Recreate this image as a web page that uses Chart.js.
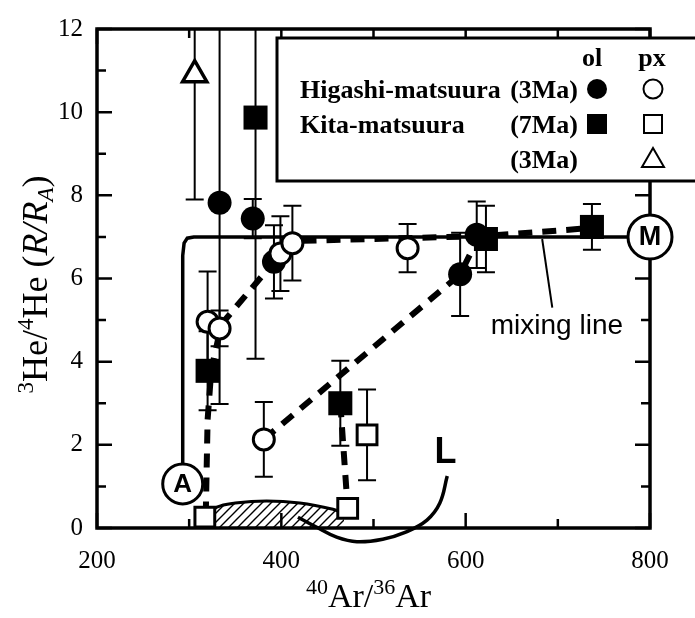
<!DOCTYPE html>
<html>
<head>
<meta charset="utf-8">
<script src="https://cdn.jsdelivr.net/npm/chart.js@4.4.0/dist/chart.umd.min.js"></script>
<style>
  html, body { margin: 0; padding: 0; background: #fff; }
  canvas { display: block; }
</style>
</head>
<body>
<canvas id="chart" width="695" height="618"></canvas>
<script>
// Higashi-matsuura (3Ma), olivine: filled circles
var hOlX = [333, 369, 392, 594, 612];
var hOlY = [7.82, 7.44, 6.4, 6.1, 7.05];
var hOlErr = [4.84, 0.47, 0.88, 1.0, 0.8];
// Higashi-matsuura (3Ma), pyroxene: open circles
var hPxX = [320, 333, 399, 412, 381, 537];
var hPxY = [4.96, 4.8, 6.6, 6.85, 2.13, 6.73];
var hPxErr = [1.21, 0.43, 0.9, 0.9, 0.9, 0.58];
// Kita-matsuura (7Ma), olivine: filled squares
var kOlX = [372, 320, 464, 622, 737];
var kOlY = [9.87, 3.78, 3.0, 6.95, 7.24];
var kOlErr = [5.8, 0.95, 1.02, 0.8, 0.55];
// Kita-matsuura (7Ma), pyroxene: open squares
var kPxX = [317, 472, 493];
var kPxY = [0.26, 0.47, 2.24];
var kPxErr = [0, 0, 1.09];
// (3Ma) pyroxene: open triangle
var tPxX = [306];
var tPxY = [10.9];
var tPxErr = [3.0];

// solid mixing line A -> M
var mixX = [293, 293, 294.5, 298, 305, 800];
var mixY = [1.06, 6.55, 6.85, 6.97, 7.0, 7.0];
// dashed trends
var dash1X = [318, 320, 324, 335, 392, 412, 620, 740];
var dash1Y = [0.3, 2.6, 3.8, 4.9, 6.4, 6.9, 7.02, 7.22];
var dash2X = [381, 594, 614];
var dash2Y = [2.13, 6.1, 7.0];
var dash3X = [464, 472];
var dash3Y = [3.0, 0.47];
// hatched field and L curve
var hatchX = [322, 330, 350, 384, 420, 456, 468];
var hatchY = [0.3, 0.5, 0.6, 0.65, 0.6, 0.45, 0.35];
var lCurveX = [418, 440, 460, 482, 510, 535, 558, 572, 580];
var lCurveY = [0.26, 0.0, -0.22, -0.33, -0.27, -0.1, 0.19, 0.6, 1.25];

// end members and labels
var endA = [293, 1.06];
var endM = [800, 7.0];
var labelL = [578, 1.8];
var mixLabel = [699, 4.85];
var mixPointerX = [683, 694];
var mixPointerY = [6.95, 5.3];

// axes
var xLabels = [200, 400, 600, 800];
var yLabels = [0, 2, 4, 6, 8, 10, 12];
var xTickVals = [200, 300, 400, 500, 600, 700, 800];
var yTickVals = [0, 1, 2, 3, 4, 5, 6, 7, 8, 9, 10, 11, 12];

var SERIF = '"Liberation Serif", "Times New Roman", serif';
var SANS = '"Liberation Sans", Arial, sans-serif';

function pts(xs, ys) {
  return xs.map(function (x, i) { return { x: x, y: ys[i] }; });
}

var canvas = document.getElementById('chart');
var ctx = canvas.getContext('2d');

// hatch pattern
var pc = document.createElement('canvas');
pc.width = 9; pc.height = 9;
var pctx = pc.getContext('2d');
pctx.strokeStyle = '#000';
pctx.lineWidth = 1.4;
pctx.beginPath();
pctx.moveTo(0, 9); pctx.lineTo(9, 0);
pctx.moveTo(-1, 1); pctx.lineTo(1, -1);
pctx.moveTo(8, 10); pctx.lineTo(10, 8);
pctx.stroke();
var hatch = ctx.createPattern(pc, 'repeat');

function lineSet(xs, ys, extra) {
  var d = {
    data: pts(xs, ys), showLine: true, pointRadius: 0, borderColor: '#000',
    borderWidth: 3.5, fill: false, tension: 0, order: 5
  };
  for (var k in extra) d[k] = extra[k];
  return d;
}

var errSeries = [
  { x: hOlX, y: hOlY, e: hOlErr },
  { x: hPxX, y: hPxY, e: hPxErr },
  { x: kOlX, y: kOlY, e: kOlErr },
  { x: kPxX, y: kPxY, e: kPxErr },
  { x: tPxX, y: tPxY, e: tPxErr }
];

function richText(c, parts, x, y) {
  var w = 0;
  parts.forEach(function (p) { c.font = p.font; w += c.measureText(p.t).width; });
  var cx = x - w / 2;
  c.textAlign = 'left';
  c.textBaseline = 'alphabetic';
  parts.forEach(function (p) {
    c.font = p.font;
    c.fillText(p.t, cx, y + (p.dy || 0));
    cx += c.measureText(p.t).width;
  });
}

function circleLabel(c, x, y, r, txt, size) {
  c.beginPath();
  c.arc(x, y, r, 0, Math.PI * 2);
  c.fillStyle = '#fff';
  c.fill();
  c.lineWidth = 3;
  c.strokeStyle = '#000';
  c.stroke();
  c.fillStyle = '#000';
  c.font = 'bold ' + size + 'px ' + SANS;
  c.textAlign = 'center';
  c.textBaseline = 'middle';
  c.fillText(txt, x, y + 1);
}

var decor = {
  id: 'decor',
  beforeDatasetsDraw: function (chart) {
    var c = chart.ctx, a = chart.chartArea, xs = chart.scales.x, ys = chart.scales.y;
    c.save();
    c.beginPath();
    c.rect(a.left, a.top, a.right - a.left, a.bottom - a.top);
    c.clip();
    c.strokeStyle = '#000';
    c.lineWidth = 2;
    errSeries.forEach(function (s) {
      s.x.forEach(function (xv, i) {
        if (!s.e[i]) return;
        var px = xs.getPixelForValue(xv);
        var t = ys.getPixelForValue(s.y[i] + s.e[i]);
        var b = ys.getPixelForValue(s.y[i] - s.e[i]);
        c.beginPath();
        c.moveTo(px, t); c.lineTo(px, b);
        c.moveTo(px - 9, t); c.lineTo(px + 9, t);
        c.moveTo(px - 9, b); c.lineTo(px + 9, b);
        c.stroke();
      });
    });
    c.restore();
  },
  afterDatasetsDraw: function (chart) {
    var c = chart.ctx, a = chart.chartArea, xs = chart.scales.x, ys = chart.scales.y;
    c.save();
    // frame
    c.strokeStyle = '#000';
    c.lineWidth = 3.5;
    c.strokeRect(a.left, a.top, a.right - a.left, a.bottom - a.top);
    // inward ticks
    c.lineWidth = 2.5;
    c.beginPath();
    xTickVals.forEach(function (v) {
      var px = xs.getPixelForValue(v);
      var len = v % 200 === 0 ? 15 : 9;
      c.moveTo(px, a.bottom); c.lineTo(px, a.bottom - len);
      c.moveTo(px, a.top); c.lineTo(px, a.top + len);
    });
    yTickVals.forEach(function (v) {
      var py = ys.getPixelForValue(v);
      var len = v % 2 === 0 ? 15 : 9;
      c.moveTo(a.left, py); c.lineTo(a.left + len, py);
      c.moveTo(a.right, py); c.lineTo(a.right - len, py);
    });
    c.stroke();

    // mixing line label and pointer
    c.lineWidth = 2;
    c.beginPath();
    c.moveTo(xs.getPixelForValue(mixPointerX[0]), ys.getPixelForValue(mixPointerY[0]));
    c.lineTo(xs.getPixelForValue(mixPointerX[1]), ys.getPixelForValue(mixPointerY[1]));
    c.stroke();
    c.fillStyle = '#000';
    c.font = '28px ' + SANS;
    c.textAlign = 'center';
    c.textBaseline = 'middle';
    c.fillText('mixing line', xs.getPixelForValue(mixLabel[0]), ys.getPixelForValue(mixLabel[1]));

    // L label
    c.font = 'bold 36px ' + SANS;
    c.fillText('L', xs.getPixelForValue(labelL[0]), ys.getPixelForValue(labelL[1]));

    // end members
    circleLabel(c, xs.getPixelForValue(endA[0]), ys.getPixelForValue(endA[1]), 20, 'A', 26);
    circleLabel(c, xs.getPixelForValue(endM[0]), ys.getPixelForValue(endM[1]), 22, 'M', 27);

    // legend box
    c.fillStyle = '#fff';
    c.fillRect(277, 38, 430, 143);
    c.lineWidth = 3;
    c.strokeStyle = '#000';
    c.strokeRect(277, 38, 430, 143);
    c.fillStyle = '#000';
    c.font = 'bold 26px ' + SERIF;
    c.textBaseline = 'alphabetic';
    c.textAlign = 'center';
    c.fillText('ol', 592, 66);
    c.fillText('px', 652, 66);
    var rows = [98, 133, 168];
    c.textAlign = 'left';
    c.fillText('Higashi-matsuura', 300, rows[0]);
    c.fillText('Kita-matsuura', 300, rows[1]);
    c.textAlign = 'right';
    c.fillText('(3Ma)', 578, rows[0]);
    c.fillText('(7Ma)', 578, rows[1]);
    c.fillText('(3Ma)', 578, rows[2]);
    var my = [89, 124, 159];
    c.beginPath(); c.arc(597, my[0], 10, 0, Math.PI * 2); c.fill();
    c.fillRect(587, my[1] - 10, 20, 20);
    c.lineWidth = 2;
    c.beginPath(); c.arc(653, my[0], 9.5, 0, Math.PI * 2); c.stroke();
    c.strokeRect(644, my[1] - 9, 18, 18);
    c.beginPath();
    c.moveTo(653, my[2] - 11); c.lineTo(664, my[2] + 8); c.lineTo(642, my[2] + 8); c.closePath();
    c.stroke();

    // axis titles
    c.fillStyle = '#000';
    var main = '34px ' + SERIF, sup = '22px ' + SERIF;
    richText(c, [
      { t: '40', font: sup, dy: -13 }, { t: 'Ar/', font: main },
      { t: '36', font: sup, dy: -13 }, { t: 'Ar', font: main }
    ], (a.left + a.right) / 2 - 5, 607);
    var ymain = '36px ' + SERIF, ysup = '23px ' + SERIF;
    c.save();
    c.translate(47, (a.top + a.bottom) / 2 + 6);
    c.rotate(-Math.PI / 2);
    richText(c, [
      { t: '3', font: ysup, dy: -14 }, { t: 'He/', font: ymain },
      { t: '4', font: ysup, dy: -14 }, { t: 'He (', font: ymain },
      { t: 'R/R', font: 'italic ' + ymain }, { t: 'A', font: 'italic ' + ysup, dy: 6 },
      { t: ')', font: ymain }
    ], 0, 0);
    c.restore();
    c.restore();
  }
};

new Chart(ctx, {
  type: 'scatter',
  data: {
    datasets: [
      { data: pts(tPxX, tPxY), pointStyle: 'triangle', pointRadius: 14, backgroundColor: '#fff',
        borderColor: '#000', borderWidth: 3.5, order: 1 },
      { data: pts(kPxX, kPxY), pointStyle: 'rect', pointRadius: 14, backgroundColor: '#fff',
        borderColor: '#000', borderWidth: 3, order: 1 },
      { data: pts(hPxX, hPxY), pointStyle: 'circle', pointRadius: 10.5, backgroundColor: '#fff',
        borderColor: '#000', borderWidth: 3, order: 1 },
      { data: pts(kOlX, kOlY), pointStyle: 'rect', pointRadius: 17, backgroundColor: '#000',
        borderColor: '#000', borderWidth: 0, order: 2 },
      { data: pts(hOlX, hOlY), pointStyle: 'circle', pointRadius: 12, backgroundColor: '#000',
        borderColor: '#000', borderWidth: 0, order: 2 },
      lineSet(dash1X, dash1Y, { borderWidth: 6, borderDash: [14, 10] }),
      lineSet(dash2X, dash2Y, { borderWidth: 6, borderDash: [14, 10] }),
      lineSet(dash3X, dash3Y, { borderWidth: 6, borderDash: [14, 10] }),
      lineSet(hatchX, hatchY, { borderWidth: 3, tension: 0.4, fill: { value: 0 }, backgroundColor: hatch, order: 6 }),
      lineSet(lCurveX, lCurveY, { borderWidth: 3.5, tension: 0.4, clip: false }),
      lineSet(mixX, mixY, { borderWidth: 3.5 })
    ]
  },
  options: {
    responsive: false,
    animation: false,
    devicePixelRatio: 1,
    layout: { padding: { top: 20, right: 45, left: 0, bottom: 0 } },
    plugins: { legend: { display: false }, tooltip: { enabled: false } },
    scales: {
      x: {
        type: 'linear', min: 200, max: 800,
        grid: { display: false, drawTicks: false }, border: { display: false },
        afterBuildTicks: function (s) { s.ticks = xLabels.map(function (v) { return { value: v }; }); },
        afterFit: function (s) { s.height = 90; },
        ticks: { font: { family: SERIF, size: 25 }, color: '#000', padding: 18, maxRotation: 0 }
      },
      y: {
        type: 'linear', min: 0, max: 12,
        grid: { display: false, drawTicks: false }, border: { display: false },
        afterBuildTicks: function (s) { s.ticks = yLabels.map(function (v) { return { value: v }; }); },
        afterFit: function (s) { s.width = 97; },
        ticks: { font: { family: SERIF, size: 25 }, color: '#000', padding: 14 }
      }
    }
  },
  plugins: [decor]
});
</script>
</body>
</html>
